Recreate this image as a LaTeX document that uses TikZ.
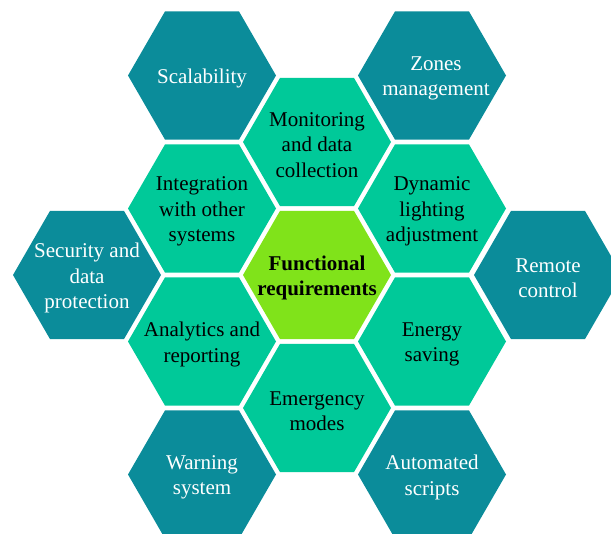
\documentclass[tikz,border=0pt]{standalone}
\usepackage{fontspec}
\setmainfont{Liberation Serif}
\usetikzlibrary{shapes.geometric}
\definecolor{limec}{HTML}{80E31A}
\definecolor{innerc}{HTML}{00C999}
\definecolor{outerc}{HTML}{0B8C9A}
\tikzset{
  hexa/.style={regular polygon, regular polygon sides=6, minimum size=148pt, inner sep=0pt, draw=none},
  centerhex/.style={hexa, fill=limec},
  innerhex/.style={hexa, fill=innerc},
  outerhex/.style={hexa, fill=outerc},
  txt/.style={align=center, font=\fontsize{21}{25.5}\selectfont, inner sep=0pt, yshift=-3pt},
  darktxt/.style={txt, text=black},
  lighttxt/.style={txt, text=white},
}
\begin{document}
\begin{tikzpicture}[x=1pt,y=-1pt]
\useasboundingbox (0,0) rectangle (611,534);
\clip (0,0) rectangle (611,534);
% center
\node[centerhex] (c) at (317,275) {};
\node[darktxt, font=\fontsize{21}{25.5}\selectfont\bfseries] (ct) at (c) {Functional\\requirements};
% inner ring
\node[innerhex] (mon) at (317,142) {};
\node[darktxt] (mont) at (mon) {Monitoring\\and data\\collection};
\node[innerhex] (dyn) at (432,208.5) {};
\node[darktxt] (dynt) at (dyn) {Dynamic\\lighting\\adjustment};
\node[innerhex] (ene) at (432,341.5) {};
\node[darktxt] (enet) at (ene) {Energy\\saving};
\node[innerhex] (emg) at (317,408) {};
\node[darktxt] (emgt) at (emg) {Emergency\\modes};
\node[innerhex] (ana) at (202,341.5) {};
\node[darktxt] (anat) at (ana) {Analytics and\\reporting};
\node[innerhex] (int) at (202,208.5) {};
\node[darktxt] (intt) at (int) {Integration\\with other\\systems};
% outer ring
\node[outerhex] (sca) at (202,75.5) {};
\node[lighttxt] (scat) at (sca) {Scalability};
\node[outerhex] (zon) at (432,75.5) {};
\node[lighttxt] (zont) at (436,75.5) {Zones\\management};
\node[outerhex] (sec) at (87,275) {};
\node[lighttxt] (sect) at (sec) {Security and\\data\\protection};
\node[outerhex] (rem) at (548,275) {};
\node[lighttxt] (remt) at (rem) {Remote\\control};
\node[outerhex] (war) at (202,474.5) {};
\node[lighttxt] (wart) at (war) {Warning\\system};
\node[outerhex] (aut) at (432,474.5) {};
\node[lighttxt] (autt) at (aut) {Automated\\scripts};
\end{tikzpicture}
\end{document}
